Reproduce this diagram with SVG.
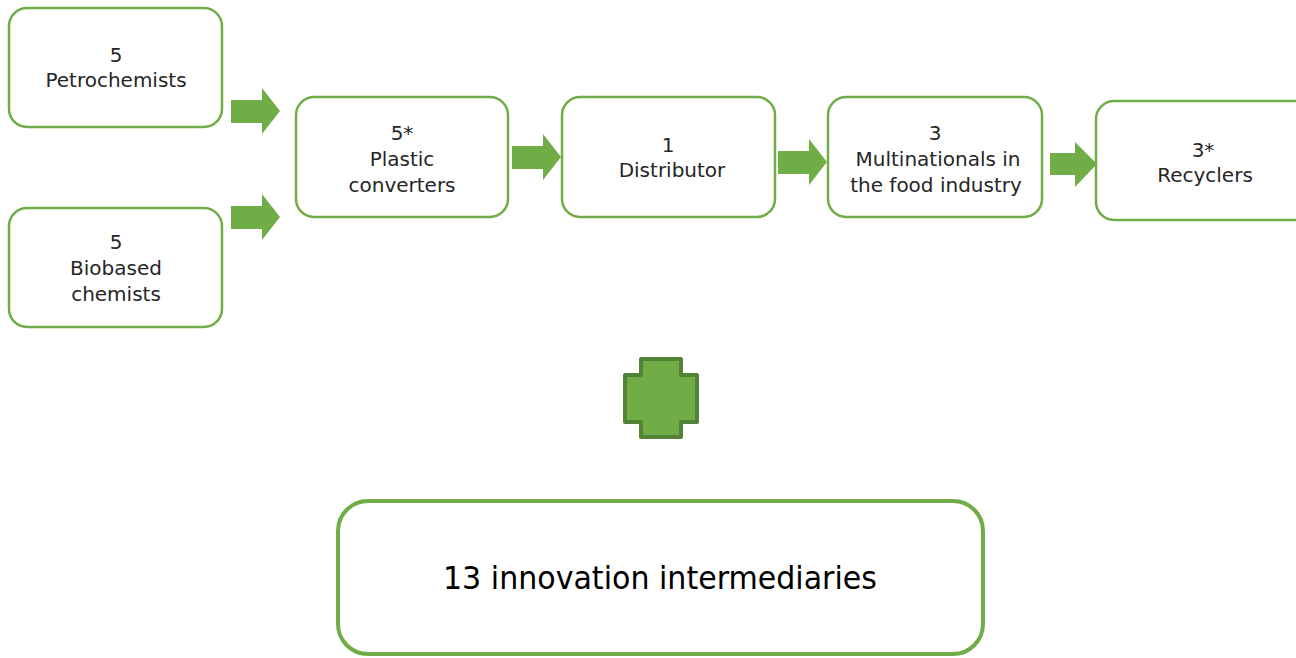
<svg xmlns="http://www.w3.org/2000/svg" width="1296" height="658" viewBox="0 0 1296 658">
<style>
.box{fill:#ffffff;stroke:#70AD47;stroke-width:2.5}
.big{fill:#ffffff;stroke:#70AD47;stroke-width:4}
.t{font-family:"DejaVu Sans",Verdana,sans-serif;font-size:20px;fill:#262626;text-anchor:middle}
.tb{font-family:"DejaVu Sans Condensed","DejaVu Sans",sans-serif;font-size:32px;fill:#000000;text-anchor:middle}
.arr{fill:#70AD47}
</style>
<rect width="1296" height="658" fill="#ffffff"/>
<g id="connectors">
<path class="arr" d="M231,100 H262 V88 L280,111 L262,134 V123 H231 Z"/>
<path class="arr" d="M231,206 H262 V194 L280,217 L262,240 V229 H231 Z"/>
<path class="arr" d="M512,146 H543 V134 L561,157 L543,180 V169 H512 Z"/>
<path class="arr" d="M778,151 H809 V139 L827,162 L809,185 V174 H778 Z"/>
<path class="arr" d="M1050,153 H1075 V142 L1097,164 L1075,187 V175 H1050 Z"/>
</g>
<g id="petrochemists">
<rect class="box" x="9" y="8" width="213" height="119" rx="18"/>
<text class="t" x="116" y="62">5</text>
<text class="t" x="116" y="87">Petrochemists</text>
</g>
<g id="biobased">
<rect class="box" x="9" y="208" width="213" height="119" rx="18"/>
<text class="t" x="116" y="249">5</text>
<text class="t" x="116" y="275">Biobased</text>
<text class="t" x="116" y="301">chemists</text>
</g>
<g id="plastic">
<rect class="box" x="296" y="97" width="212" height="120" rx="18"/>
<text class="t" x="402" y="140">5*</text>
<text class="t" x="402" y="166">Plastic</text>
<text class="t" x="402" y="192">converters</text>
</g>
<g id="distributor">
<rect class="box" x="562" y="97" width="213" height="120" rx="18"/>
<text class="t" x="668" y="152">1</text>
<text class="t" x="672" y="177">Distributor</text>
</g>
<g id="multinationals">
<rect class="box" x="828" y="97" width="214" height="120" rx="18"/>
<text class="t" x="935" y="140">3</text>
<text class="t" x="938" y="166">Multinationals in</text>
<text class="t" x="936" y="192">the food industry</text>
</g>
<g id="recyclers">
<rect class="box" x="1096" y="101" width="220" height="119" rx="18"/>
<text class="t" x="1203" y="157">3*</text>
<text class="t" x="1205" y="182">Recyclers</text>
</g>
<g id="plus">
<path d="M641,359 H681 V375 H697 V422 H681 V437 H641 V422 H625 V375 H641 Z" fill="#70AD47" stroke="#538135" stroke-width="4" stroke-linejoin="round"/>
</g>
<g id="intermediaries">
<rect class="big" x="338" y="501" width="645" height="153" rx="30"/>
<text class="tb" x="660" y="589" textLength="434" lengthAdjust="spacingAndGlyphs">13 innovation intermediaries</text>
</g>
</svg>
